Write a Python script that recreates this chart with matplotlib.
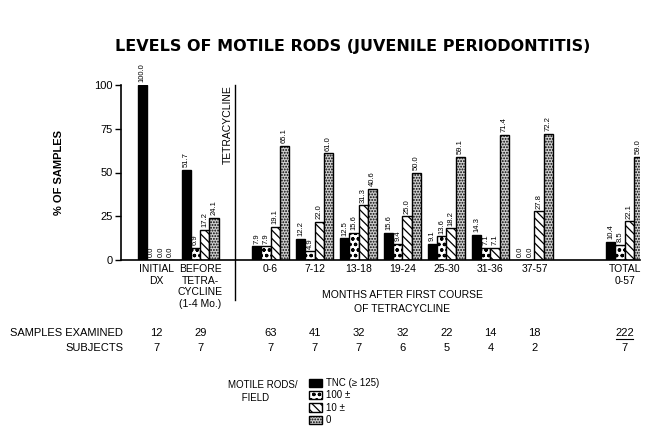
import matplotlib.pyplot as plt
from matplotlib.transforms import blended_transform_factory

plt.rcParams['font.family'] = ['Liberation Sans', 'DejaVu Sans']
plt.rcParams['hatch.linewidth'] = 0.9

# data (percent of samples at each motile-rod level)
groups = ["INITIAL\nDX", "BEFORE\nTETRA-\nCYCLINE\n(1-4 Mo.)", "0-6", "7-12", "13-18",
          "19-24", "25-30", "31-36", "37-57", "TOTAL\n0-57"]
tnc = [100.0, 51.7, 7.9, 12.2, 12.5, 15.6, 9.1, 14.3, 0.0, 10.4]
hundred = [0.0, 6.9, 7.9, 4.9, 15.6, 9.4, 13.6, 7.1, 0.0, 8.5]
ten = [0.0, 17.2, 19.1, 22.0, 31.3, 25.0, 18.2, 7.1, 27.8, 22.1]
zero = [0.0, 24.1, 65.1, 61.0, 40.6, 50.0, 59.1, 71.4, 72.2, 59.0]
samples = [12, 29, 63, 41, 32, 32, 22, 14, 18, 222]
subjects = [7, 7, 7, 7, 7, 6, 5, 4, 2, 7]
series_labels = ["TNC (\u2265 125)", "100 \u00b1", "10 \u00b1", "0"]

# group positions along the x axis (gaps before the treatment and the total)
xpos = [0, 1, 2.6, 3.6, 4.6, 5.6, 6.6, 7.6, 8.6, 10.65]

fig = plt.figure(figsize=(6.46, 4.33), dpi=100)
ax = fig.add_axes([121 / 646, 1 - 260 / 433, (640 - 121) / 646, 175 / 433])

w = 0.21
styles = [dict(color="black", hatch=None),
          dict(color="white", hatch="ooo"),
          dict(color="white", hatch="\\\\\\\\"),
          dict(color="#cfcfcf", hatch="......")]
handles = []
for i, vals in enumerate([tnc, hundred, ten, zero]):
    xs = [x + (i - 1.5) * w for x in xpos]
    b = ax.bar(xs, vals, width=w, facecolor=styles[i]["color"], hatch=styles[i]["hatch"],
               edgecolor="black", linewidth=1.0, zorder=2)
    handles.append(b)
    for x, v in zip(xs, vals):
        ax.text(x, v + 1.5, f"{v:.1f}", rotation=90, ha="center", va="bottom",
                fontsize=5.5, clip_on=False)

ax.set_xlim(-0.8, 11.0)
ax.set_ylim(0, 100)
ax.set_yticks([0, 25, 50, 75, 100])
ax.tick_params(axis="y", labelsize=8, length=4, width=1, pad=2)
ax.set_xticks(xpos)
ax.set_xticklabels(groups, fontsize=7.5, linespacing=1.2)
ax.tick_params(axis="x", length=0, pad=3)
for s in ["top", "right"]:
    ax.spines[s].set_visible(False)
ax.spines["left"].set_linewidth(1.2)
ax.spines["bottom"].set_linewidth(1.2)
ax.set_ylabel("% OF SAMPLES", fontsize=8, fontweight="bold", labelpad=22)

# treatment divider
ax.plot([1.8, 1.8], [-23, 100], color="black", lw=1, clip_on=False)
ax.text(1.63, 100, "TETRACYCLINE", rotation=90, ha="center", va="top", fontsize=7.5)

ax.text(5.6, -17, "MONTHS AFTER FIRST COURSE\nOF TETRACYCLINE", ha="center", va="top",
        fontsize=7.5, linespacing=1.5)

# table of counts
tr = blended_transform_factory(ax.transData, fig.transFigure)
fig.text(123 / 646, 1 - 333 / 433, "SAMPLES EXAMINED", ha="right", va="center", fontsize=8)
fig.text(123 / 646, 1 - 348 / 433, "SUBJECTS", ha="right", va="center", fontsize=8)
for x, n, s in zip(xpos, samples, subjects):
    ax.text(x, 1 - 333 / 433, str(n), transform=tr, ha="center", va="center", fontsize=8)
    ax.text(x, 1 - 348 / 433, str(s), transform=tr, ha="center", va="center", fontsize=8)
ax.plot([xpos[-1] - 0.2, xpos[-1] + 0.2], [1 - 339 / 433] * 2, transform=tr,
        color="black", lw=0.8, clip_on=False)

fig.text(0.5 * (118 + 588) / 646, 1 - 47 / 433,
         "LEVELS OF MOTILE RODS (JUVENILE PERIODONTITIS)",
         ha="center", va="center", fontsize=11.5, fontweight="bold", family="DejaVu Sans")

fig.text(228 / 646, 1 - 380 / 433, "MOTILE RODS/\n     FIELD", ha="left", va="top",
         fontsize=7, linespacing=1.4)
fig.legend(handles, series_labels, loc="upper left", bbox_to_anchor=(309 / 646, 1 - 378 / 433),
           frameon=False, fontsize=7, handlelength=1.3, handleheight=0.9,
           labelspacing=0.25, handletextpad=0.4, borderpad=0, borderaxespad=0)

fig.savefig("out.png", dpi=100)
